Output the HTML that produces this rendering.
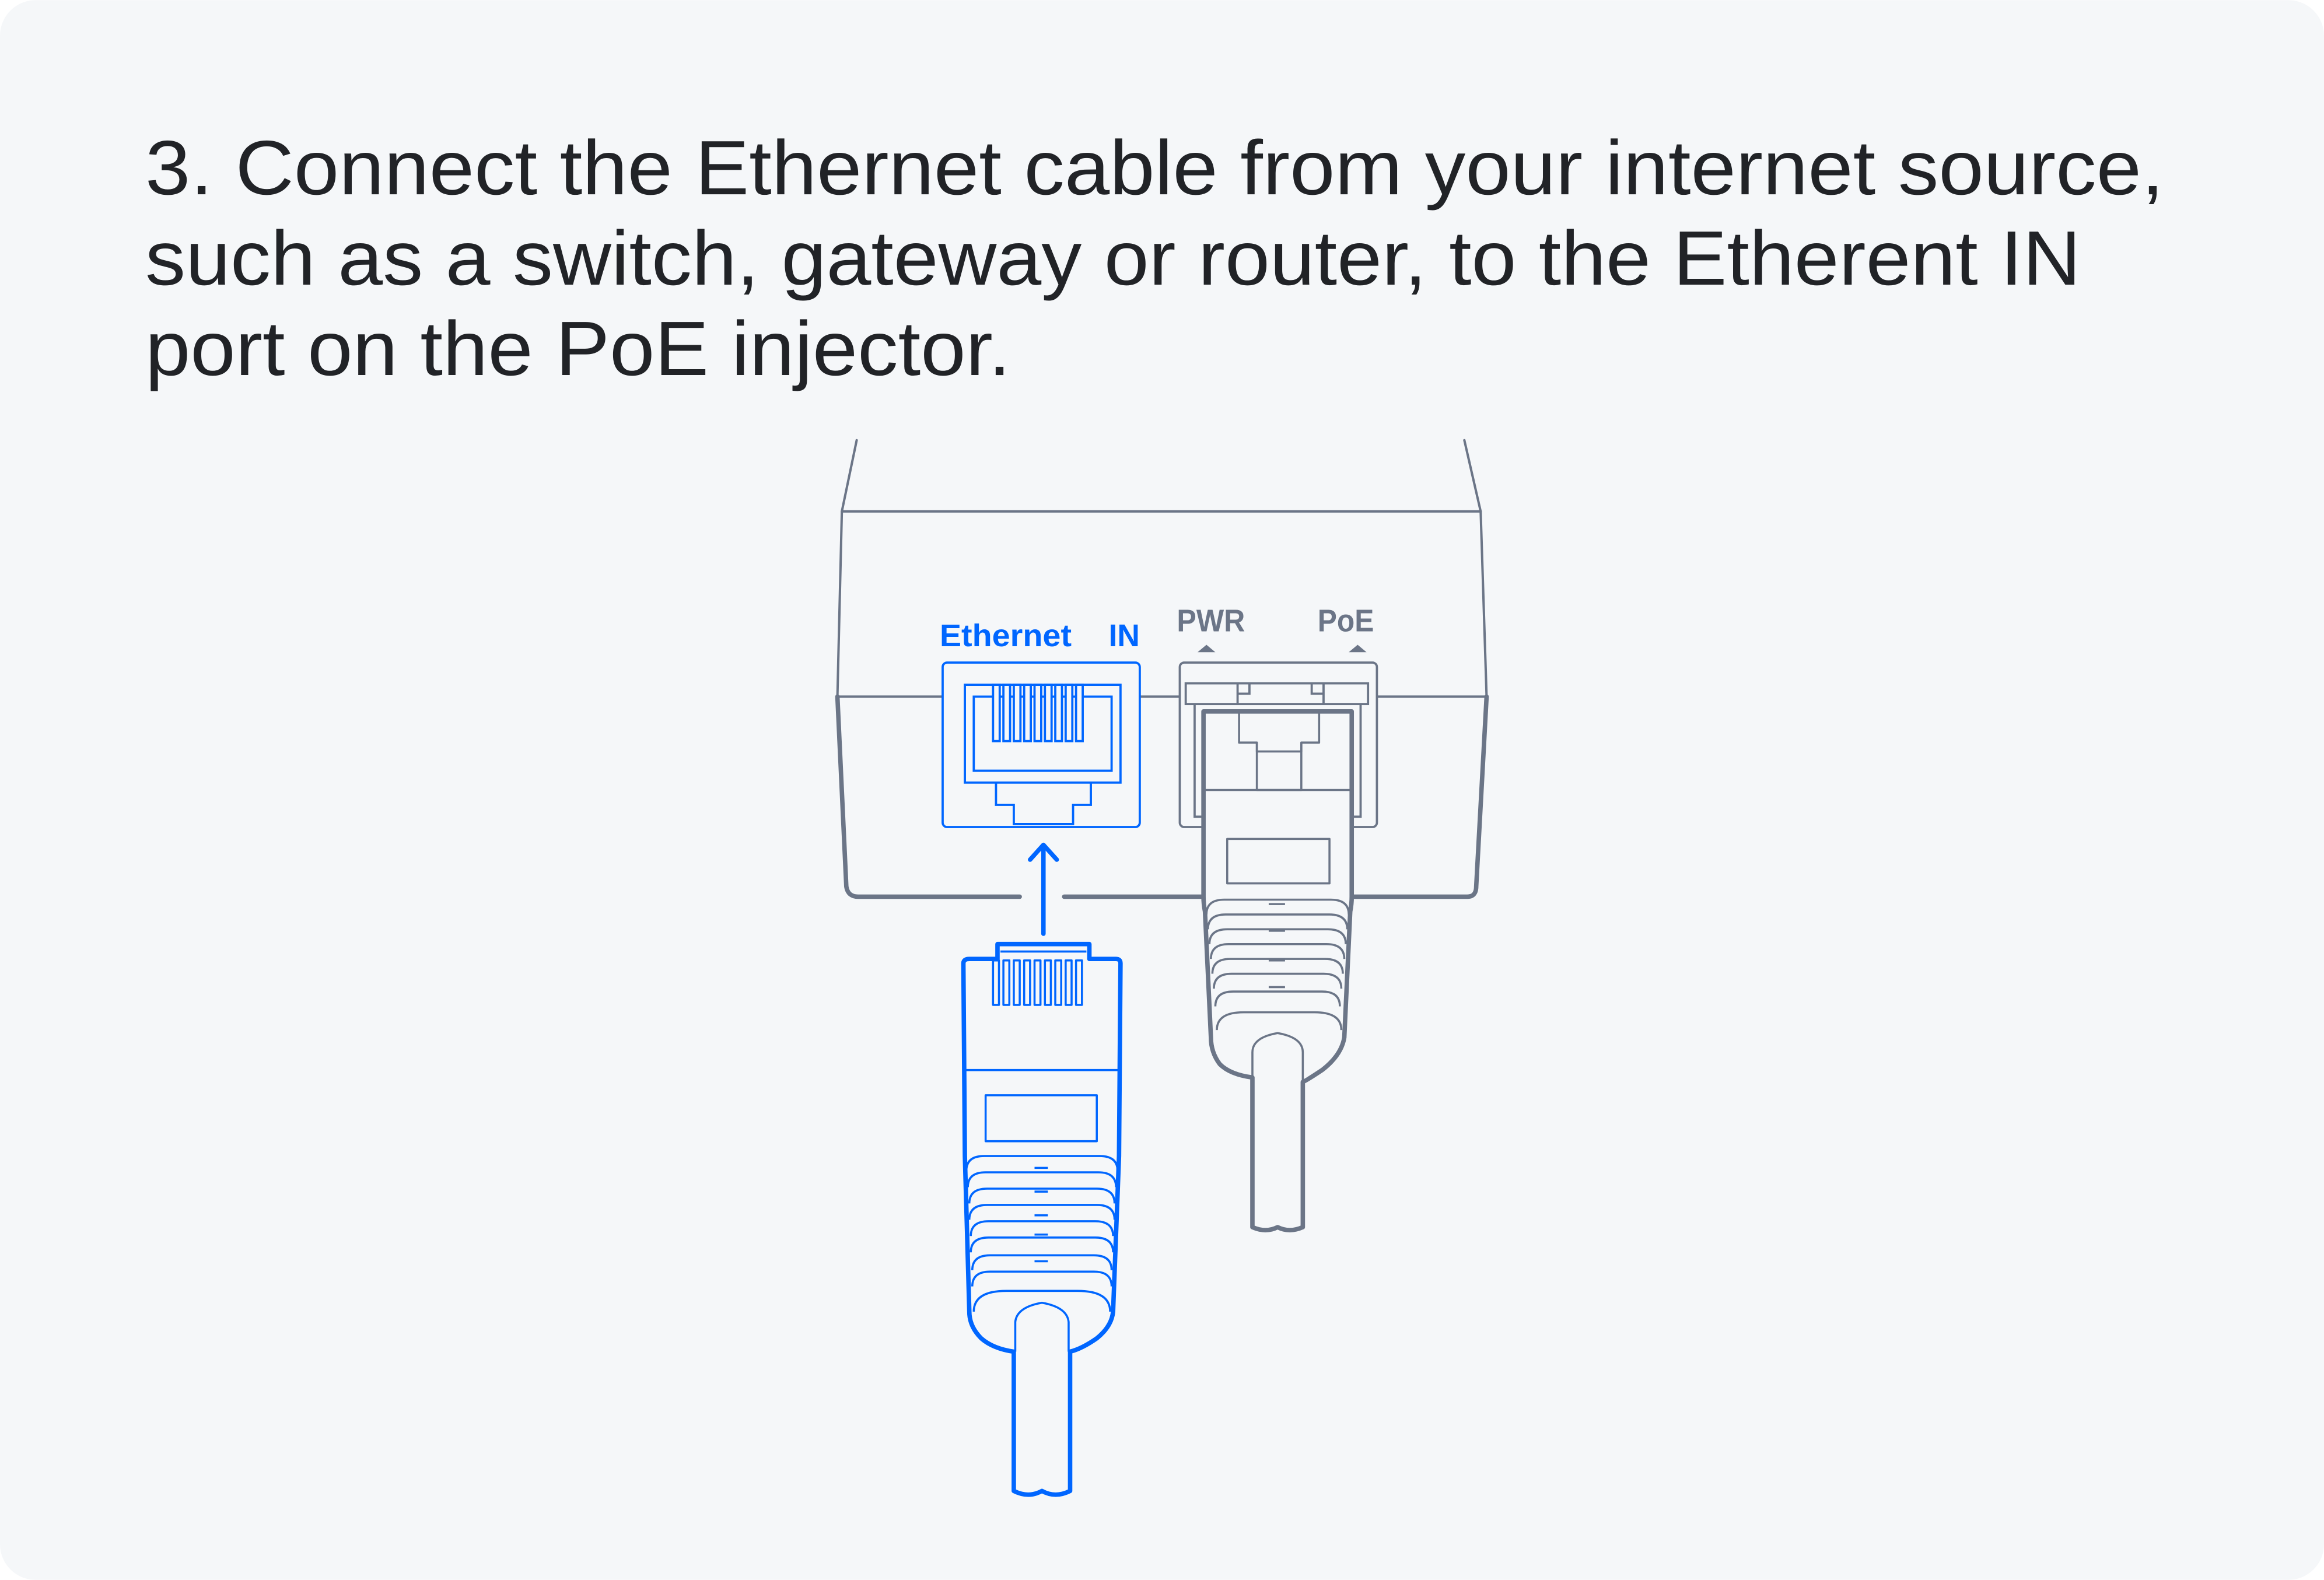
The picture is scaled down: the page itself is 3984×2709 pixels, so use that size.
<!DOCTYPE html>
<html><head><meta charset="utf-8"><style>
html,body{margin:0;padding:0;background:#fff;}
svg{display:block;}
</style></head><body>
<svg width="3984" height="2709" viewBox="0 0 1568 1066" xmlns="http://www.w3.org/2000/svg">
<rect x="0" y="0" width="1568" height="1066" rx="24" fill="#f5f7f9"/>
<g font-family="'Liberation Sans', sans-serif" font-size="52" fill="#212327">
<text x="98" y="131" textLength="1362" lengthAdjust="spacingAndGlyphs">3. Connect the Ethernet cable from your internet source,</text>
<text x="98" y="192" textLength="1306" lengthAdjust="spacingAndGlyphs">such as a switch, gateway or router, to the Etherent IN</text>
<text x="98" y="253" textLength="584" lengthAdjust="spacingAndGlyphs">port on the PoE injector.</text>
</g>
<g fill="none" stroke="#6b7587" stroke-width="1.6" stroke-linejoin="round" stroke-linecap="round">
<path d="M578,297 L568,345 L999,345 L988,297"/>
<path d="M568,345 L565,470 L1003,470 L999,345"/>
<path d="M565,470 L571,598 Q572,605 579,605 L688,605" stroke-width="3"/>
<path d="M718,605 L812,605" stroke-width="3"/>
<path d="M910,605 L990,605 Q996,605 996,598 L1003,470" stroke-width="3"/>
</g>
<g font-family="'Liberation Sans', sans-serif" font-size="21" font-weight="bold">
<text x="634" y="436" fill="#0066ff" textLength="89" lengthAdjust="spacingAndGlyphs">Ethernet</text>
<text x="748" y="436" fill="#0066ff">IN</text>
<text x="794" y="426" fill="#6b7587" textLength="46" lengthAdjust="spacingAndGlyphs">PWR</text>
<text x="889" y="426" fill="#6b7587" textLength="38" lengthAdjust="spacingAndGlyphs">PoE</text>
</g>
<path d="M808,440 L814,435 L820,440 Z M910,440 L916,435 L922,440 Z" fill="#6b7587"/>
<g fill="#f5f7f9" stroke="#0066ff" stroke-width="1.5">
<rect x="636" y="447" width="133" height="111" rx="3"/>
<rect x="651" y="462" width="105" height="66"/>
<rect x="657" y="470" width="93" height="50"/>
<path d="M672,528 v15 h12 v13 h40 v-13 h12 v-15" fill="none"/>
<rect x="670" y="462" width="4.5" height="38"/><rect x="677" y="462" width="4.5" height="38"/><rect x="684" y="462" width="4.5" height="38"/><rect x="691" y="462" width="4.5" height="38"/><rect x="698" y="462" width="4.5" height="38"/><rect x="705" y="462" width="4.5" height="38"/><rect x="712" y="462" width="4.5" height="38"/><rect x="719" y="462" width="4.5" height="38"/><rect x="726" y="462" width="4.5" height="38"/>
</g>
<g stroke="#0066ff" stroke-width="3" fill="none" stroke-linecap="round" stroke-linejoin="round">
<path d="M704,630 L704,570 M695,580 L704,570 L713,580"/>
</g>
<g fill="#f5f7f9" stroke="#6b7587" stroke-width="1.5">
<rect x="796" y="447" width="133" height="111" rx="3"/>
<rect x="800" y="461" width="123" height="14"/>
<path d="M835,461 v14 M893,461 v14 M835,468 h8 v-7 M893,468 h-8 v-7" fill="none"/>
<path d="M806,475 v76 h6 M918,475 v76 h-6" fill="none"/>
</g>
<g stroke="#6b7587" fill="#f5f7f9" stroke-linejoin="round">
<path d="M812,480 L912,480 L912,605 Q912,610 911,615 L907,700 Q905,712 892,722 Q880,730 879,730 L879,828 Q870,832 862,828 Q854,832 845,828 L845,727 Q830,725 823,718 Q817,710 817,700 L813,615 Q812,610 812,605 Z" stroke-width="3"/>
<g stroke-width="1.4" fill="none">
<path d="M812,533 h100"/>
<path d="M836,480 v21 h12 v32 h30 v-32 h12 v-21"/>
<path d="M848,501 v6 h30 v-6"/>
<rect x="828" y="566" width="69" height="30"/>
<path d="M814,617 q0,-10 12,-10 h72 q12,0 12,10"/>
<path d="M815,627 q0,-10 12,-10 h70 q12,0 12,10"/>
<path d="M816,637 q0,-10 12,-10 h68 q12,0 12,10"/>
<path d="M817,647 q0,-10 12,-10 h66 q12,0 12,10"/>
<path d="M818,657 q0,-10 12,-10 h64 q12,0 12,10"/>
<path d="M819,667 q0,-10 12,-10 h62 q12,0 12,10"/>
<path d="M820,679 q0,-10 12,-10 h60 q12,0 12,10"/>
<path d="M821,695 q0,-12 18,-12 h48 q18,0 18,12"/>
<path d="M845,727 L845,710 Q845,700 862,697 Q879,700 879,710 L879,730"/>
<path d="M856,610 h11 M856,628 h11 M856,648 h11 M856,666 h11"/>
</g>
</g>
<g stroke="#0066ff" fill="#f5f7f9" stroke-linejoin="round">
<path d="M650,650 Q650,647 654,647 L673,647 L673,637 L735,637 L735,647 L753,647 Q756,647 756,650 L755,780 L751,885 Q750,895 740,903 Q730,910 722,912 L722,1006 Q712,1011 703,1006 Q694,1011 684,1006 L684,912 Q670,910 662,903 Q654,895 654,885 L651,780 Z" stroke-width="3"/>
<g stroke-width="1.4" fill="none">
<path d="M675,642 h58"/>
<rect x="670" y="648" width="4" height="30"/><rect x="677" y="648" width="4" height="30"/><rect x="684" y="648" width="4" height="30"/><rect x="691" y="648" width="4" height="30"/><rect x="698" y="648" width="4" height="30"/><rect x="705" y="648" width="4" height="30"/><rect x="712" y="648" width="4" height="30"/><rect x="719" y="648" width="4" height="30"/><rect x="726" y="648" width="4" height="30"/>
<path d="M651,722 h104"/>
<rect x="665" y="739" width="75" height="31"/>
<path d="M652,790 q0,-10 12,-10 h78 q12,0 12,10"/>
<path d="M653,801 q0,-10 12,-10 h76 q12,0 12,10"/>
<path d="M654,812 q0,-10 12,-10 h74 q12,0 12,10"/>
<path d="M654,823 q0,-10 12,-10 h74 q12,0 12,10"/>
<path d="M655,834 q0,-10 12,-10 h72 q12,0 12,10"/>
<path d="M655,845 q0,-10 12,-10 h72 q12,0 12,10"/>
<path d="M656,857 q0,-10 12,-10 h70 q12,0 12,10"/>
<path d="M656,868 q0,-10 12,-10 h70 q12,0 12,10"/>
<path d="M657,885 q0,-14 22,-14 h48 q22,0 22,14"/>
<path d="M685,912 L685,892 Q686,882 703,879 Q720,882 721,892 L721,912"/>
<path d="M698,788 h9 M698,804 h9 M698,820 h9 M698,833 h9 M698,851 h9"/>
</g>
</g>
</svg>
</body></html>
